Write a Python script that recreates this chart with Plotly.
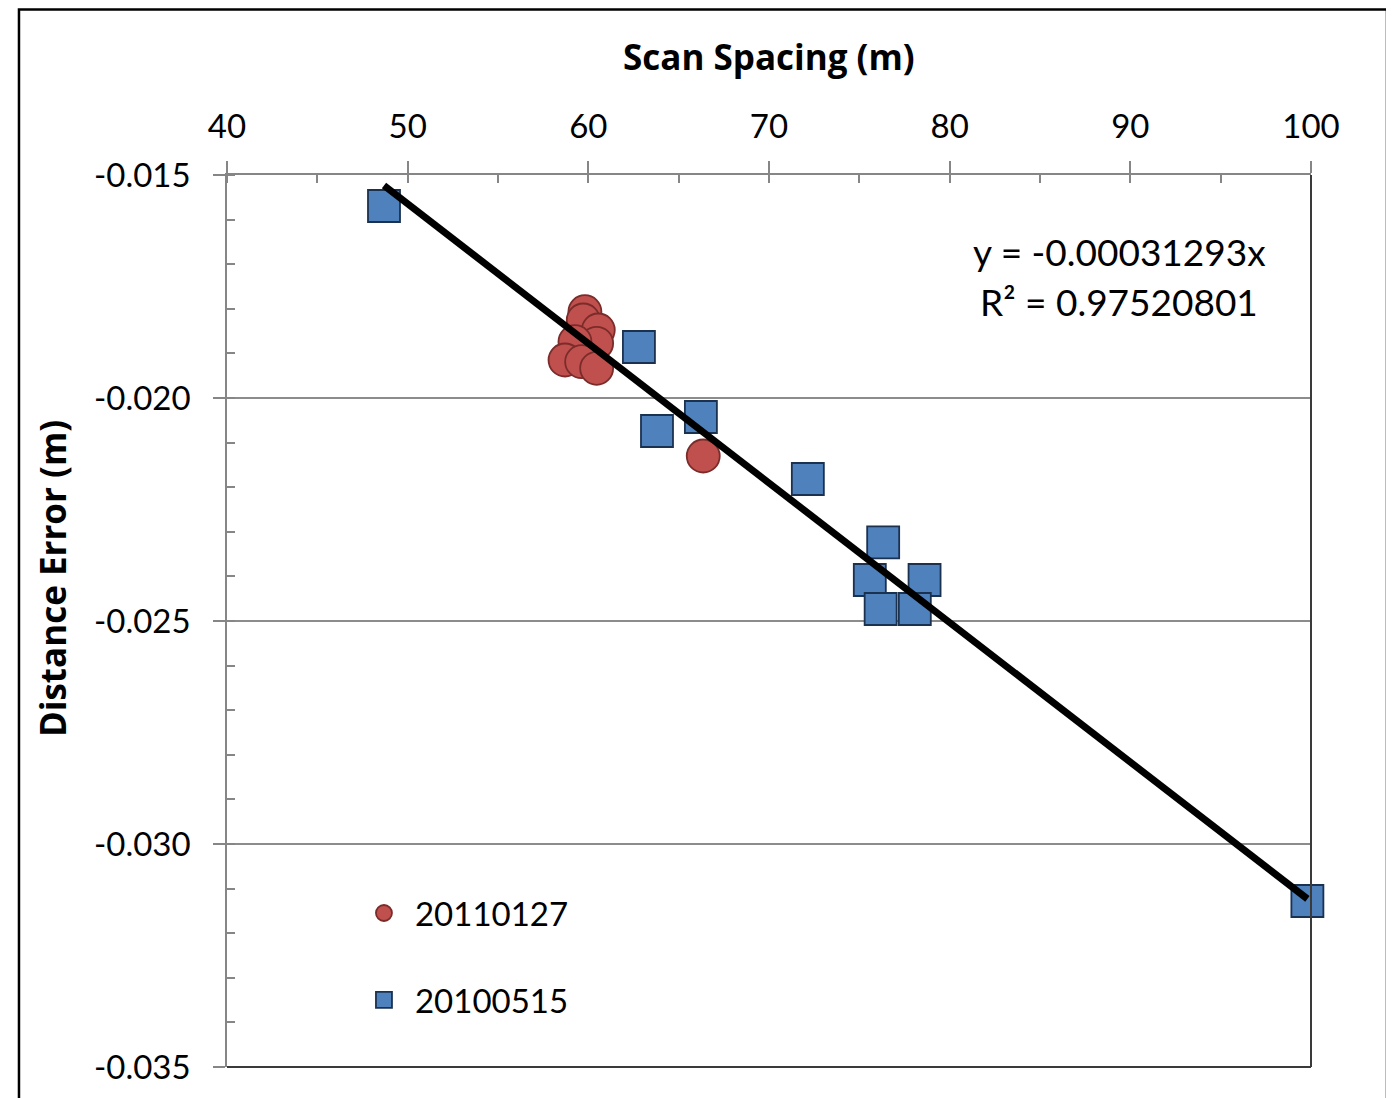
import plotly.graph_objects as go

# ---- data ----
blue_name = "20100515"
blue_x = [48.69, 62.80, 63.80, 66.23, 72.15, 76.32, 75.58, 76.18, 78.61, 78.07, 99.8]
blue_y = [-0.015695, -0.018857, -0.020740, -0.020426, -0.021816, -0.023236,
          -0.024081, -0.024731, -0.024081, -0.024731, -0.031278]

red_name = "20110127"
red_x = [59.81, 59.72, 60.55, 60.46, 59.26, 58.71, 59.63, 60.46, 66.36]
red_y = [-0.018065, -0.018251, -0.018475, -0.018774, -0.018738, -0.019148,
         -0.019186, -0.019334, -0.021300]

trend_slope = -0.00031293
trend_r2 = 0.97520801

x_ticks = [40, 50, 60, 70, 80, 90, 100]
y_ticks = [-0.015, -0.020, -0.025, -0.030, -0.035]
y_tick_labels = ["-0.015", "-0.020", "-0.025", "-0.030", "-0.035"]

x_title = "Scan Spacing (m)"
y_title = "Distance Error (m)"

FONT = "Lato"
TFONT = "Open Sans"
AX_GRAY = "#868686"

all_x = blue_x + red_x
tx = [min(all_x), max(all_x)]
ty = [trend_slope * v for v in tx]

fig = go.Figure()
fig.add_trace(go.Scatter(
    x=blue_x, y=blue_y, mode="markers", name=blue_name, legend="legend2",
    cliponaxis=False,
    marker=dict(symbol="square", size=32, color="#4F81BD",
                line=dict(color="#1B3150", width=1.8)),
))
fig.add_trace(go.Scatter(
    x=red_x, y=red_y, mode="markers", name=red_name, legend="legend",
    cliponaxis=False,
    marker=dict(symbol="circle", size=33, color="#C0504D",
                line=dict(color="#7A2C2A", width=1.8)),
))
fig.add_trace(go.Scatter(
    x=tx, y=ty, mode="lines", showlegend=False, hoverinfo="skip", cliponaxis=False,
    line=dict(color="black", width=7),
))
# invisible trace on overlay axes for inward part of major ticks
fig.add_trace(go.Scatter(x=[40, 100], y=[-0.035, -0.015], xaxis="x2", yaxis="y2",
                         mode="markers", marker=dict(opacity=0), showlegend=False,
                         hoverinfo="skip"))

leg_common = dict(xanchor="left", yanchor="middle", font=dict(family=FONT, size=33),
                  bgcolor="rgba(0,0,0,0)", itemsizing="trace", itemwidth=52)

fig.update_layout(
    width=1378, height=1090,
    margin=dict(l=219, r=75, t=167, b=31),
    paper_bgcolor="white", plot_bgcolor="white",
    font=dict(family=FONT, size=33, color="black"),
    showlegend=True,
    legend=dict(x=0.1162, y=0.1726, **leg_common),
    legend2=dict(x=0.1162, y=0.0751, **leg_common),
    xaxis=dict(
        side="top", range=[40, 100], tickvals=x_ticks, ticks="outside", ticklen=12,
        tickcolor=AX_GRAY, tickwidth=1.5, showline=True, linecolor=AX_GRAY, linewidth=1.5,
        showgrid=False, zeroline=False, ticklabelstandoff=10, automargin=False,
        tickfont=dict(family=FONT, size=33),
        minor=dict(dtick=5, ticks="inside", ticklen=8, tickcolor=AX_GRAY, tickwidth=1.5),
    ),
    yaxis=dict(
        range=[-0.035, -0.015], tickvals=y_ticks, ticktext=y_tick_labels,
        ticks="outside", ticklen=12, tickcolor=AX_GRAY, tickwidth=1.5,
        showline=True, linecolor=AX_GRAY, linewidth=1.5, automargin=False,
        showgrid=True, gridcolor="#8C8C8C", gridwidth=1.5, zeroline=False,
        ticklabelstandoff=16, tickfont=dict(family=FONT, size=33),
        minor=dict(dtick=0.001, ticks="inside", ticklen=8, tickcolor=AX_GRAY, tickwidth=1.5,
                   showgrid=False),
    ),
    xaxis2=dict(overlaying="x", side="top", range=[40, 100], tickvals=x_ticks,
                ticks="inside", ticklen=8, tickcolor=AX_GRAY, tickwidth=1.5, automargin=False,
                showticklabels=False, showgrid=False, zeroline=False, showline=False),
    yaxis2=dict(overlaying="y", side="left", range=[-0.035, -0.015], tickvals=y_ticks,
                ticks="inside", ticklen=8, tickcolor=AX_GRAY, tickwidth=1.5, automargin=False,
                showticklabels=False, showgrid=False, zeroline=False, showline=False),
)

# plot-area right/bottom border and outer chart border
fig.add_shape(type="line", xref="paper", yref="paper", x0=1, x1=1, y0=0, y1=1,
              line=dict(color="#3A3A3A", width=2))
fig.add_shape(type="line", xref="paper", yref="paper", x0=0, x1=1, y0=0, y1=0,
              line=dict(color="#3A3A3A", width=2))
fig.add_shape(type="rect", xref="paper", yref="paper",
              x0=-0.1919, x1=1.0701, y0=-0.08, y1=1.1855,
              line=dict(color="black", width=2.5), layer="below")

# axis titles
fig.add_annotation(xref="paper", yref="paper", x=0.5, y=1.1323, showarrow=False,
                   text=f"<b>{x_title}</b>", font=dict(family=TFONT, size=35),
                   xanchor="center", yanchor="middle")
fig.add_annotation(xref="paper", yref="paper", x=-0.1614, y=0.547, showarrow=False,
                   text=f"<b>{y_title}</b>", font=dict(family=TFONT, size=35),
                   textangle=-90, xanchor="center", yanchor="middle")

# trendline equation
fig.add_annotation(xref="paper", yref="paper", x=0.823, y=0.914, showarrow=False,
                   text=f"y = {trend_slope:.8f}x", font=dict(family=FONT, size=37),
                   xanchor="center", yanchor="middle")
fig.add_annotation(xref="paper", yref="paper", x=0.823, y=0.858, showarrow=False,
                   text=f"R² = {trend_r2:.8f}", font=dict(family=FONT, size=37),
                   xanchor="center", yanchor="middle")

fig.write_html("out.html")
